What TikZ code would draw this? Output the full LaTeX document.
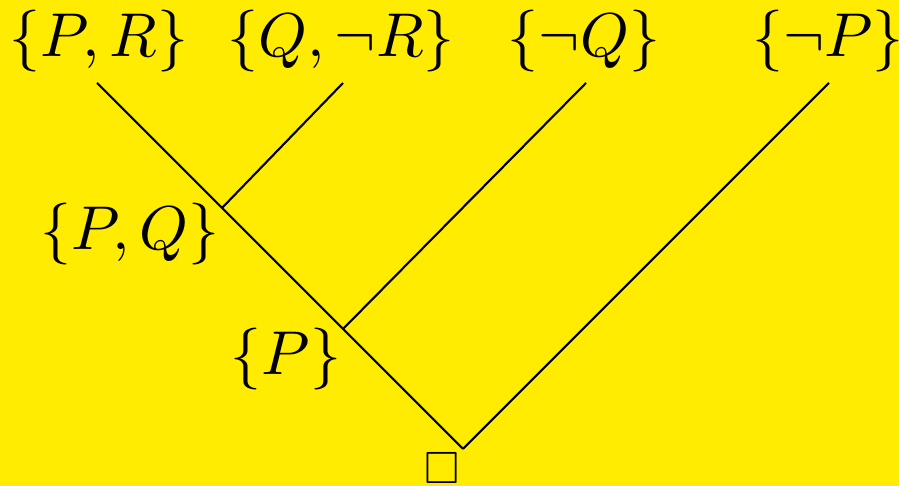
\documentclass[tikz,border=0pt]{standalone}
\usepackage{amsmath, amssymb}
\usepackage{tikz}
\usetikzlibrary{positioning}
\definecolor{resbg}{RGB}{255,236,0}

\begin{document}
\begin{tikzpicture}[
  x=0.01cm, y=-0.01cm,
  clause/.style={inner sep=0pt,scale=1.76,transform shape},
  edge/.style={line width=0.6pt}
]
  \fill[resbg] (0,0) rectangle (899,486);
  \useasboundingbox (0,0) rectangle (899,486);

  \node[clause] (pr) at (99,41) {$\{P,R\}$};
  \node[clause] (qnr) at (341,41) {$\{Q,\neg R\}$};
  \node[clause] (nq) at (584,41) {$\{\neg Q\}$};
  \node[clause] (np) at (828,41) {$\{\neg P\}$};

  \coordinate (t1) at (97,83);
  \coordinate (t2) at (343,83);
  \coordinate (t3) at (586,83);
  \coordinate (t4) at (829,83);
  \coordinate (j1) at (222,208);
  \coordinate (j2) at (343,329);
  \coordinate (root) at (463,449);

  \node[clause] (pq) at (130,234) {$\{P,Q\}$};
  \node[clause] (p) at (286,359) {$\{P\}$};
  \node[clause,scale=0.73] (empty) at (442,468) {$\Box$};

  \draw[edge] (t1)--(j1)--(j2)--(root);
  \draw[edge] (t2)--(j1);
  \draw[edge] (t3)--(j2);
  \draw[edge] (t4)--(root);
\end{tikzpicture}
\end{document}
